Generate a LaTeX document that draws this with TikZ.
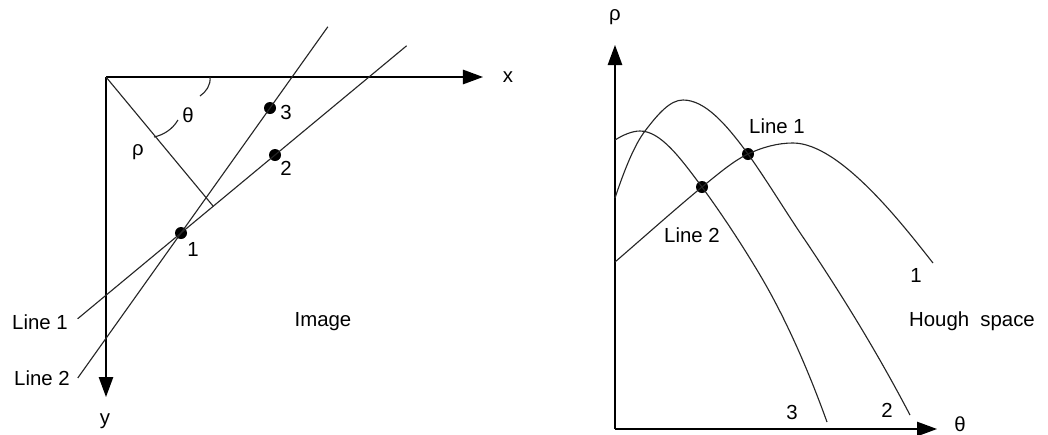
\documentclass[tikz,border=0pt]{standalone}
\usepackage{fontspec}
\setmainfont{Liberation Sans}
\usetikzlibrary{positioning, calc, arrows.meta}
\tikzset{
    axisline/.style={draw=black, line width=1pt, -{Triangle[length=0.5cm, width=0.36cm]}},
    thinline/.style={draw=black!85, line width=0.8pt},
    dotpt/.style={circle, fill=black, inner sep=0pt, minimum size=0.3cm},
    lbl/.style={font=\fontsize{14.5}{17}\selectfont, inner sep=1pt}
}

\begin{document}
\begin{tikzpicture}[x=0.025cm, y=-0.025cm]
\useasboundingbox (0,0) rectangle (1048,435);

% Image space axes
\coordinate (O) at (106,77);
\coordinate (xend) at (483,77);
\coordinate (yend) at (106,397);
\draw[axisline] (O) -- (xend);
\draw[axisline] (O) -- (yend);
\node[lbl] (xlab) at (508,77) {x};
\node[lbl] (ylab) at (105,421) {y};

% Points
\node[dotpt] (p1) at (181,233) {};
\node[dotpt] (p2) at (275,155) {};
\node[dotpt] (p3) at (270,108) {};
\node[lbl] (n1) at (193,249) {1};
\node[lbl] (n2) at (286,168) {2};
\node[lbl] (n3) at (286,112) {3};

% Lines through the points
\coordinate (l1a) at ($(p1)!-1.1!(p2)$);
\coordinate (l1b) at ($(p1)!2.4!(p2)$);
\coordinate (l2a) at ($(p1)!-1.16!(p3)$);
\coordinate (l2b) at ($(p1)!1.65!(p3)$);
\draw[thinline] (l1a) -- (l1b);
\draw[thinline] (l2a) -- (l2b);
\node[lbl] (line1) at (40,322) {Line 1};
\node[lbl] (line2) at (42,378) {Line 2};

% Normal and angle
\coordinate (foot) at ($(p1)!(O)!(p2)$);
\draw[thinline] (O) -- (foot);
\draw[thinline] (210,77) .. controls (211,85) and (206,92) .. (200,96);
\draw[thinline] (178,120) .. controls (172,130) and (163,135) .. (154,137);
\node[lbl] (theta) at (188,115) {θ};
\node[lbl] (rho) at (138,152) {ρ};
\node[lbl] (image) at (323,322) {Image};

% Hough space axes
\coordinate (H) at (615,429);
\coordinate (rhoend) at (615,45);
\coordinate (thetaend) at (937,429);
\draw[axisline] (H) -- (rhoend);
\draw[axisline] (H) -- (thetaend);
\node[lbl] (rholab) at (615,17) {ρ};
\node[lbl] (thetalab) at (960,424) {θ};

% Curves
\node[dotpt] (h1) at (748,154) {};
\node[dotpt] (h2) at (702,187) {};
% curve 3
\draw[thinline] (615,140) .. controls (623,135) and (632,131) .. (640,131)
    .. controls (661,131) and (681,159) .. (h2.center)
    .. controls (721,213) and (741,243) .. (760,275)
    .. controls (782,312) and (805,361) .. (827,422);
% curve 2
\draw[thinline] (615,198) .. controls (625,168) and (635,144) .. (645,131)
    .. controls (658,114) and (670,100) .. (683,100)
    .. controls (705,100) and (726,124) .. (h1.center)
    .. controls (768,182) and (787,214) .. (807,243)
    .. controls (841,294) and (876,350) .. (910,415);
% curve 1
\draw[thinline] (615,262) .. controls (644,237) and (673,211) .. (h2.center)
    .. controls (717,175) and (733,161) .. (h1.center)
    .. controls (763,147) and (778,143) .. (793,143)
    .. controls (840,143) and (903,225) .. (933,263);
\node[lbl] (hl1) at (777,126) {Line 1};
\node[lbl] (hl2) at (692,235) {Line 2};
\node[lbl] (c1) at (916,275) {1};
\node[lbl] (c2) at (887,410) {2};
\node[lbl] (c3) at (792,412) {3};
\node[lbl] (hough) at (972,321) {Hough\hspace{0.55em}space};

\end{tikzpicture}
\end{document}
